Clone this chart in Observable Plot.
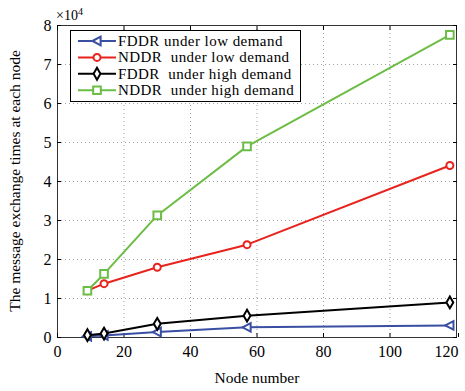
<!DOCTYPE html>
<html><head><meta charset="utf-8">
<script src="https://cdn.jsdelivr.net/npm/d3@7"></script>
<script src="https://cdn.jsdelivr.net/npm/@observablehq/plot@0.6"></script>
<style>
body{margin:0;background:#fff;}
#chart{position:relative;width:465px;height:391px;}
svg{font-family:"Liberation Serif","Times New Roman",serif;}
</style></head>
<body><div id="chart"></div>
<script>
const nodes = [9, 14, 30, 57, 118];
const fddrLow  = [300, 500, 1400, 2600, 3100];
const nddrLow  = [12000, 13800, 18000, 23800, 44100];
const fddrHigh = [600, 1000, 3500, 5600, 9000];
const nddrHigh = [12000, 16300, 31300, 49000, 77600];
const seriesNames = ["FDDR under low demand", "NDDR  under low demand", "FDDR  under high demand", "NDDR  under high demand"];
const seriesColors = ["#3a4fa3", "#e8221c", "#000000", "#6cbd45"];
const xTicks = [0, 20, 40, 60, 80, 100, 120];
const yTicks = [0, 10000, 20000, 30000, 40000, 50000, 60000, 70000, 80000];

const triLeft = {draw(ctx, size){ const r = Math.sqrt(size)*0.75; ctx.moveTo(-r,0); ctx.lineTo(r*0.8,-r*0.95); ctx.lineTo(r*0.8,r*0.95); ctx.closePath(); }};
const symbols = [triLeft, "circle", "diamond", "square"];
const radii = [3.4, 3.5, 3.6, 4.3];
const allSeries = [fddrLow, nddrLow, fddrHigh, nddrHigh];
const data = allSeries.flatMap((vals, s) => nodes.map((n, i) => ({x: n, y: vals[i], s})));

const marks = [
  Plot.gridX(xTicks, {stroke: "#888", strokeOpacity: 0.8, strokeDasharray: "1,3"}),
  Plot.gridY(yTicks, {stroke: "#888", strokeOpacity: 0.8, strokeDasharray: "1,3"}),
  Plot.frame({stroke: "#333"}),
  Plot.axisX(xTicks.slice(0, -1), {anchor: "bottom", tickSize: -4, tickPadding: 12, fontSize: 16, label: null}),
  Plot.axisX(xTicks.slice(-1), {anchor: "bottom", tickSize: -4, tickPadding: 12, fontSize: 16, textAnchor: "end", dx: 2, label: null}),
  Plot.axisX(xTicks, {anchor: "top", tickSize: -4, tickFormat: () => "", label: null}),
  Plot.axisY(yTicks, {anchor: "left", tickSize: -4, tickPadding: 10, fontSize: 16, tickFormat: d => d / 10000, label: null}),
  Plot.axisY(yTicks, {anchor: "right", tickSize: -4, tickFormat: () => "", label: null})
];
allSeries.forEach((vals, s) => {
  const d = data.filter(r => r.s === s);
  marks.push(Plot.line(d, {x: "x", y: "y", stroke: seriesColors[s], strokeWidth: 2}));
  marks.push(Plot.dot(d, {x: "x", y: "y", stroke: seriesColors[s], strokeWidth: 2, fill: "white", symbol: symbols[s], r: radii[s]}));
});

const plot = Plot.plot({
  width: 465, height: 391,
  marginLeft: 57, marginRight: 9, marginTop: 25, marginBottom: 54,
  x: {domain: [0, 120]},
  y: {domain: [0, 80000]},
  style: {fontFamily: "Liberation Serif, Times New Roman, serif", fontSize: "16px", color: "#000", background: "white"},
  marks
});
document.getElementById("chart").appendChild(plot);

const svg = d3.select(plot);
svg.selectAll('g[aria-label$="tick label"]').attr("font-size", 16);
svg.append("text").attr("x", 257).attr("y", 383).attr("text-anchor", "middle").attr("font-size", 15.5).text("Node number");
svg.append("text").attr("transform", "translate(20,181) rotate(-90)").attr("text-anchor", "middle").attr("font-size", 15.5).text("The message exchange times at each node");
const ex = svg.append("text").attr("x", 56).attr("y", 20).attr("font-size", 14).attr("text-anchor", "start");
ex.append("tspan").text("\u00d710");
ex.append("tspan").attr("dy", -5).attr("font-size", 10).text("4");

const lg = svg.append("g");
lg.append("rect").attr("x", 70.5).attr("y", 30.5).attr("width", 230).attr("height", 71).attr("fill", "white").attr("stroke", "#000");
seriesNames.forEach((name, i) => {
  const y = 41 + i * 16.4;
  lg.append("line").attr("x1", 78).attr("x2", 116).attr("y1", y).attr("y2", y).attr("stroke", seriesColors[i]).attr("stroke-width", 2);
  const sym = typeof symbols[i] === "string" ? {circle: d3.symbolCircle, diamond: d3.symbolDiamond, square: d3.symbolSquare}[symbols[i]] : symbols[i];
  lg.append("path").attr("transform", `translate(97,${y})`).attr("d", d3.symbol(sym, Math.PI * radii[i] * radii[i])()).attr("fill", "white").attr("stroke", seriesColors[i]).attr("stroke-width", 2);
  lg.append("text").attr("x", 118).attr("y", y + 5).attr("font-size", 15).attr("letter-spacing", 0.45).attr("text-anchor", "start").text(name);
});
</script></body></html>
